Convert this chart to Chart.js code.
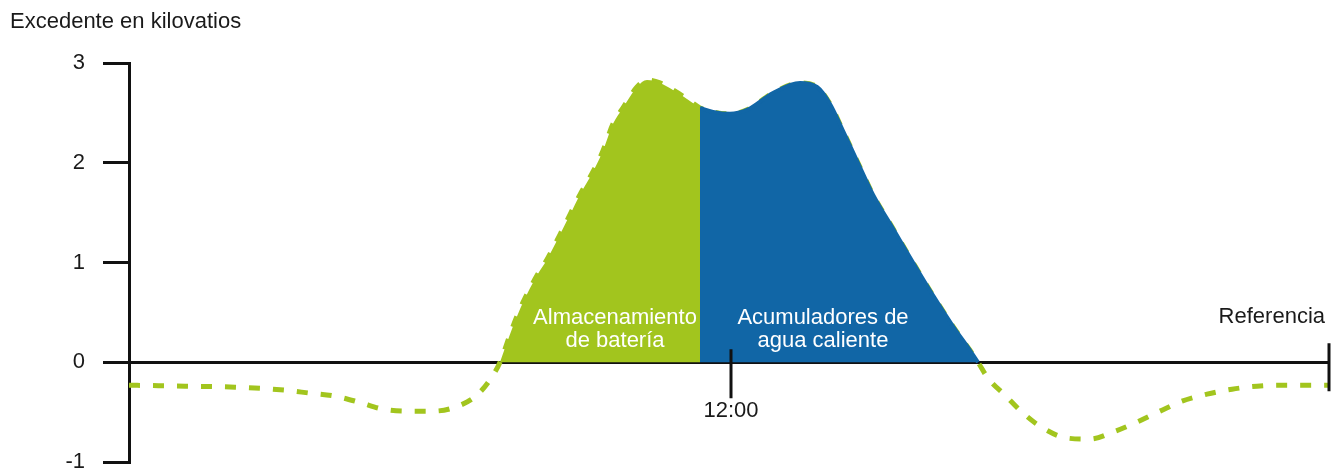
<!DOCTYPE html>
<html>
<head>
<meta charset="utf-8">
<script src="https://cdn.jsdelivr.net/npm/chart.js@4.4.1/dist/chart.umd.min.js"></script>
<style>
  html, body { margin: 0; padding: 0; background: #fff; }
</style>
</head>
<body>
<canvas id="surplusChart" width="1338" height="469"></canvas>
<script>
// hour of day -> surplus in kW
const hours = [0, 1.12, 2.12, 3.12, 3.62, 4.12, 4.6, 5.08, 5.58, 6.08, 6.58, 6.98, 7.28,
  7.42, 7.68, 7.88, 8.16, 8.36, 8.62, 8.82, 9.02, 9.28, 9.48, 9.68, 9.88, 10.16, 10.36,
  10.62, 10.88, 11.16, 11.42, 11.68, 12.02, 12.36, 12.88, 13.42, 13.76, 14.02, 14.28,
  14.56, 14.88, 15.28, 15.68, 16.08, 16.48, 16.82, 16.98, 17.18, 17.52, 17.88, 18.28,
  18.76, 19.22, 19.68, 20.16, 20.62, 21.06, 21.56, 22.06, 22.56, 23.02, 24];
const surplus = [-0.23, -0.24, -0.25, -0.28, -0.31, -0.34, -0.40, -0.47, -0.49, -0.49, -0.44, -0.32, -0.13,
  0.0, 0.36, 0.60, 0.87, 1.03, 1.28, 1.48, 1.68, 1.91, 2.12, 2.39, 2.55, 2.76, 2.83,
  2.80, 2.73, 2.64, 2.55, 2.51, 2.49, 2.53, 2.70, 2.80, 2.76, 2.59, 2.32,
  2.02, 1.68, 1.34, 1.00, 0.67, 0.36, 0.12, 0.0, -0.16, -0.33, -0.51, -0.66,
  -0.76, -0.77, -0.70, -0.60, -0.49, -0.39, -0.32, -0.27, -0.24, -0.23, -0.23];
const yTicks = [-1, 0, 1, 2, 3];
const timeTicks = [12, 24];
const timeLabels = ['12:00', 'Referencia'];
const batteryFrom = 7.42, splitAt = 11.42, waterTo = 16.98;
const areaLabels = [['Almacenamiento', 'de batería'], ['Acumuladores de', 'agua caliente']];
const yTitle = 'Excedente en kilovatios';

const FONT = '22px "Liberation Sans", Arial, sans-serif';
const GREEN = '#a2c51e';
const BLUE = '#1166a6';

const points = hours.map((h, i) => ({ x: h, y: surplus[i] }));
const battery = points.filter(p => p.x >= batteryFrom && p.x <= splitAt);
const water = points.filter(p => p.x >= splitAt && p.x <= waterTo);

const decor = {
  id: 'decor',
  afterDraw(chart) {
    const { ctx, scales: { x, y } } = chart;
    const y0 = y.getPixelForValue(0);
    ctx.save();
    ctx.strokeStyle = '#111';
    ctx.lineWidth = 3;
    let px = x.getPixelForValue(timeTicks[0]) + 2;
    ctx.beginPath(); ctx.moveTo(px, y0 - 13); ctx.lineTo(px, y0 + 36); ctx.stroke();
    px = x.getPixelForValue(timeTicks[1]);
    ctx.beginPath(); ctx.moveTo(px, y0 - 19); ctx.lineTo(px, y0 + 29); ctx.stroke();

    ctx.font = FONT;
    ctx.textBaseline = 'middle';
    ctx.fillStyle = '#1a1a1a';
    ctx.textAlign = 'center';
    ctx.fillText(timeLabels[0], x.getPixelForValue(timeTicks[0]) + 2, y0 + 49);
    ctx.textAlign = 'right';
    ctx.fillText(timeLabels[1], x.getPixelForValue(timeTicks[1]) - 4, y0 - 45);
    ctx.textAlign = 'left';
    ctx.fillText(yTitle, 10, 22);

    ctx.fillStyle = '#fff';
    ctx.textAlign = 'center';
    const centers = [9.72, 13.88];
    areaLabels.forEach((lines, i) => {
      const cx = x.getPixelForValue(centers[i]);
      ctx.fillText(lines[0], cx, y.getPixelForValue(0.44));
      ctx.fillText(lines[1], cx, y.getPixelForValue(0.21));
    });
    ctx.restore();
  }
};

new Chart(document.getElementById('surplusChart').getContext('2d'), {
  type: 'line',
  data: {
    datasets: [{
      data: battery,
      fill: 'origin',
      backgroundColor: GREEN,
      borderColor: 'rgba(0,0,0,0)',
      pointRadius: 0,
      cubicInterpolationMode: 'monotone'
    }, {
      data: water,
      fill: 'origin',
      backgroundColor: BLUE,
      borderColor: BLUE,
      borderWidth: 4,
      pointRadius: 0,
      cubicInterpolationMode: 'monotone'
    }, {
      data: points,
      fill: false,
      borderColor: GREEN,
      borderWidth: 5,
      borderDash: [11, 13],
      pointRadius: 0,
      cubicInterpolationMode: 'monotone'
    }]
  },
  options: {
    responsive: false,
    animation: false,
    devicePixelRatio: 1,
    layout: { padding: { left: 0, right: 9, top: 63, bottom: 7 } },
    plugins: { legend: { display: false }, tooltip: { enabled: false } },
    scales: {
      x: {
        type: 'linear',
        min: 0,
        max: 24,
        position: { y: 0 },
        grid: { display: false },
        ticks: { display: false },
        border: { color: '#111', width: 3 },
        afterFit: s => { s.paddingLeft = 0; s.paddingRight = 0; s.paddingTop = 0; s.paddingBottom = 0; }
      },
      y: {
        min: yTicks[0],
        max: yTicks[yTicks.length - 1],
        afterBuildTicks: s => { s.ticks = yTicks.map(v => ({ value: v })); },
        grid: { drawOnChartArea: false, drawTicks: true, tickLength: 26, color: '#111', lineWidth: 3 },
        border: { color: '#111', width: 3 },
        ticks: { color: '#1a1a1a', padding: 18, font: { family: '"Liberation Sans", Arial, sans-serif', size: 22 } },
        afterFit: s => { s.width = 129; s.paddingTop = 0; s.paddingBottom = 0; }
      }
    }
  },
  plugins: [decor]
});
</script>
</body>
</html>
